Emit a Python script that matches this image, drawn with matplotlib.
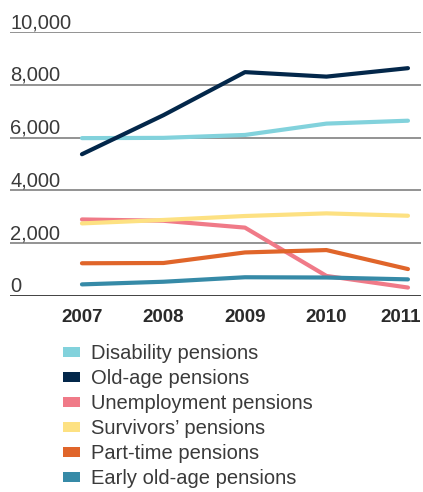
import matplotlib.pyplot as plt
from matplotlib.patches import Patch

plt.rcParams['font.family'] = ['Liberation Sans', 'DejaVu Sans']

years = [2007, 2008, 2009, 2010, 2011]
disability = [5980, 5990, 6100, 6530, 6640]
old_age = [5370, 6850, 8480, 8310, 8630]
unemployment = [2900, 2850, 2590, 760, 320]
survivors = [2750, 2880, 3030, 3130, 3040]
part_time = [1240, 1250, 1650, 1740, 1020]
early_old_age = [440, 540, 710, 700, 630]

labels = ['Disability pensions', 'Old-age pensions', 'Unemployment pensions',
          "Survivors\u2019 pensions", 'Part-time pensions', 'Early old-age pensions']
colors = ['#82d2dc', '#03274a', '#f07a88', '#fde182', '#e0652a', '#368aa7']
series = [disability, old_age, unemployment, survivors, part_time, early_old_age]

fig = plt.figure(figsize=(4.23, 4.92), dpi=100)
ax = fig.add_axes([10 / 423, 196 / 492, 411 / 423, 264 / 492])

for vals, c in zip(series, colors):
    ax.plot(years, vals, color=c, lw=3.0, solid_capstyle='round',
            solid_joinstyle='round', zorder=3)

ax.set_xlim(2006.117, 2011.16)
ax.set_ylim(0, 10000)

# horizontal gridlines with the value written just above each one
for v in range(2000, 10001, 2000):
    ax.axhline(v, color='#8a8a8a', lw=1.3, zorder=1)
ax.axhline(0, color='#333333', lw=1.3, zorder=1)
for v in range(0, 10001, 2000):
    ax.text(0, v + 150, f'{v:,}', transform=ax.get_yaxis_transform(),
            ha='left', va='baseline', fontsize=14.5, color='#3a3a3a')

for s in ax.spines.values():
    s.set_visible(False)
ax.set_yticks([])
ax.set_xticks([])

# year labels; the last one is pulled in so it stays inside the figure
for i, y in enumerate(years):
    last = i == len(years) - 1
    ax.text(2011.16 if last else y, -500, str(y), ha='right' if last else 'center',
            va='top', fontsize=13.5, fontweight='bold', color='#2a2a2a')

handles = [Patch(facecolor=c, edgecolor='none') for c in colors]
fig.legend(handles, labels, loc='upper left', bbox_to_anchor=(53 / 423, 1 - 334 / 492),
           frameon=False, fontsize=14.5, handlelength=0.82, handleheight=0.34,
           handletextpad=0.55, labelspacing=0.3, borderpad=0, labelcolor='#3a3a3a')

fig.savefig('out.png', dpi=100)
